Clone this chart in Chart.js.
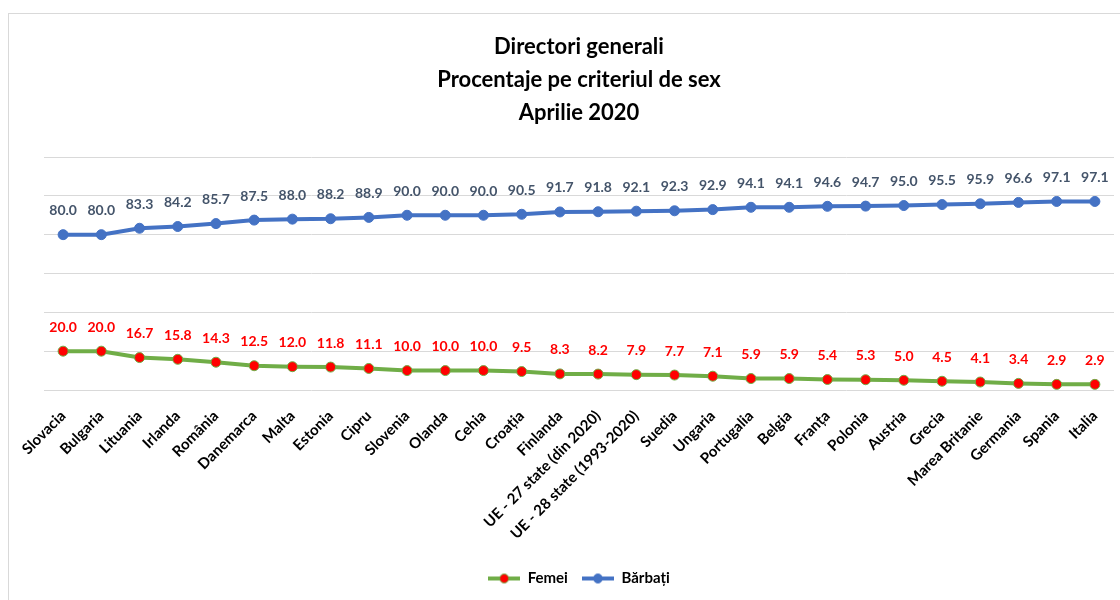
<!DOCTYPE html>
<html>
<head>
<meta charset="utf-8">
<script src="https://cdn.jsdelivr.net/npm/chart.js@4.4.0/dist/chart.umd.min.js"></script>
<style>
    html, body { margin: 0; padding: 0; background: #fff; }
    #wrap { position: relative; width: 1120px; height: 600px; overflow: hidden; }
    #frame { position: absolute; left: 8px; top: 13px; width: 1200px; height: 700px; border: 1px solid #d9d9d9; }
    #chart { position: absolute; left: 0; top: 0; }
</style>
</head>
<body>
<div id="wrap">
    <div id="frame"></div>
    <canvas id="chart" width="1120" height="600"></canvas>
</div>
<script>
const categories = ['Slovacia', 'Bulgaria', 'Lituania', 'Irlanda', 'România', 'Danemarca', 'Malta', 'Estonia', 'Cipru',
    'Slovenia', 'Olanda', 'Cehia', 'Croația', 'Finlanda', 'UE - 27 state (din 2020)', 'UE - 28 state (1993-2020)',
    'Suedia', 'Ungaria', 'Portugalia', 'Belgia', 'Franța', 'Polonia', 'Austria', 'Grecia', 'Marea Britanie',
    'Germania', 'Spania', 'Italia']
const femei = [20.0, 20.0, 16.7, 15.8, 14.3, 12.5, 12.0, 11.8, 11.1, 10.0, 10.0, 10.0, 9.5, 8.3, 8.2, 7.9, 7.7, 7.1,
    5.9, 5.9, 5.4, 5.3, 5.0, 4.5, 4.1, 3.4, 2.9, 2.9]
const barbati = [80.0, 80.0, 83.3, 84.2, 85.7, 87.5, 88.0, 88.2, 88.9, 90.0, 90.0, 90.0, 90.5, 91.7, 91.8, 92.1, 92.3,
    92.9, 94.1, 94.1, 94.6, 94.7, 95.0, 95.5, 95.9, 96.6, 97.1, 97.1]
const titleLines = ['Directori generali', 'Procentaje pe criteriul de sex', 'Aprilie 2020']

const FONT = 'Lato, "Open Sans", sans-serif'
const PLOT_BOTTOM = 390

// small line-with-dot icons for the legend
function legendIcon(lineColor, dotColor) {
    const c = document.createElement('canvas')
    c.width = 32; c.height = 12
    const g = c.getContext('2d')
    g.strokeStyle = lineColor
    g.lineWidth = 4
    g.beginPath(); g.moveTo(0, 6); g.lineTo(32, 6); g.stroke()
    g.fillStyle = dotColor
    g.strokeStyle = lineColor
    g.lineWidth = 1
    g.beginPath(); g.arc(16, 6, 4.5, 0, Math.PI * 2); g.fill(); g.stroke()
    return c
}

// values above the points
const valueLabels = {
    id: 'valueLabels',
    afterDatasetsDraw(chart) {
        const ctx = chart.ctx
        ctx.save()
        ctx.font = 'bold 14px ' + FONT
        ctx.textAlign = 'center'
        ctx.textBaseline = 'middle'
        chart.data.datasets.forEach((ds, i) => {
            ctx.fillStyle = ds.labelColor
            chart.getDatasetMeta(i).data.forEach((pt, j) => {
                ctx.fillText(ds.data[j].toFixed(1), pt.x, pt.y - 24)
            })
        })
        ctx.restore()
    }
}

new Chart(document.getElementById('chart').getContext('2d'), {
    type: 'line',
    data: {
        labels: categories,
        datasets: [{
            label: 'Femei',
            data: femei,
            borderColor: '#70AD47',
            borderWidth: 4,
            pointBackgroundColor: '#FF0000',
            pointBorderColor: '#70AD47',
            pointBorderWidth: 1,
            pointRadius: 5,
            labelColor: '#FF0000',
            tension: 0
        }, {
            label: 'Bărbați',
            data: barbati,
            borderColor: '#4472C4',
            borderWidth: 4,
            pointBackgroundColor: '#4472C4',
            pointBorderColor: '#4472C4',
            pointBorderWidth: 1,
            pointRadius: 5,
            labelColor: '#44546A',
            tension: 0
        }]
    },
    options: {
        responsive: false,
        animation: false,
        layout: { padding: { left: 44, right: 6, top: 0, bottom: 4 } },
        plugins: {
            title: {
                display: true,
                text: titleLines,
                color: '#000',
                font: { family: FONT, size: 22, weight: 'bold', lineHeight: 1.5 },
                padding: { top: 30, bottom: 28 }
            },
            legend: {
                position: 'bottom',
                labels: {
                    color: '#000',
                    font: { family: FONT, size: 15, weight: 'bold' },
                    usePointStyle: true,
                    pointStyleWidth: 32,
                    boxHeight: 12,
                    padding: 14,
                    generateLabels(chart) {
                        return [
                            { text: 'Femei', pointStyle: legendIcon('#70AD47', '#FF0000'), datasetIndex: 0, fontColor: '#000', lineWidth: 0, strokeStyle: 'transparent', fillStyle: 'transparent' },
                            { text: 'Bărbați', pointStyle: legendIcon('#4472C4', '#4472C4'), datasetIndex: 1, fontColor: '#000', lineWidth: 0, strokeStyle: 'transparent', fillStyle: 'transparent' }
                        ]
                    }
                }
            },
            tooltip: { enabled: false }
        },
        scales: {
            x: {
                offset: true,
                grid: { display: false },
                border: { display: false },
                ticks: {
                    color: '#000',
                    font: { family: FONT, size: 15, weight: 'bold' },
                    minRotation: 45,
                    maxRotation: 45,
                    autoSkip: false,
                    padding: 9
                },
                afterFit(scale) {
                    const legendH = scale.chart.legend ? scale.chart.legend.height : 30
                    scale.height = 600 - 4 - legendH - PLOT_BOTTOM
                }
            },
            y: {
                min: 0,
                max: 120,
                ticks: { stepSize: 20, display: false },
                grid: { color: '#d9d9d9', lineWidth: 1, drawTicks: false },
                border: { display: false }
            }
        }
    },
    plugins: [valueLabels]
});
</script>
</body>
</html>
